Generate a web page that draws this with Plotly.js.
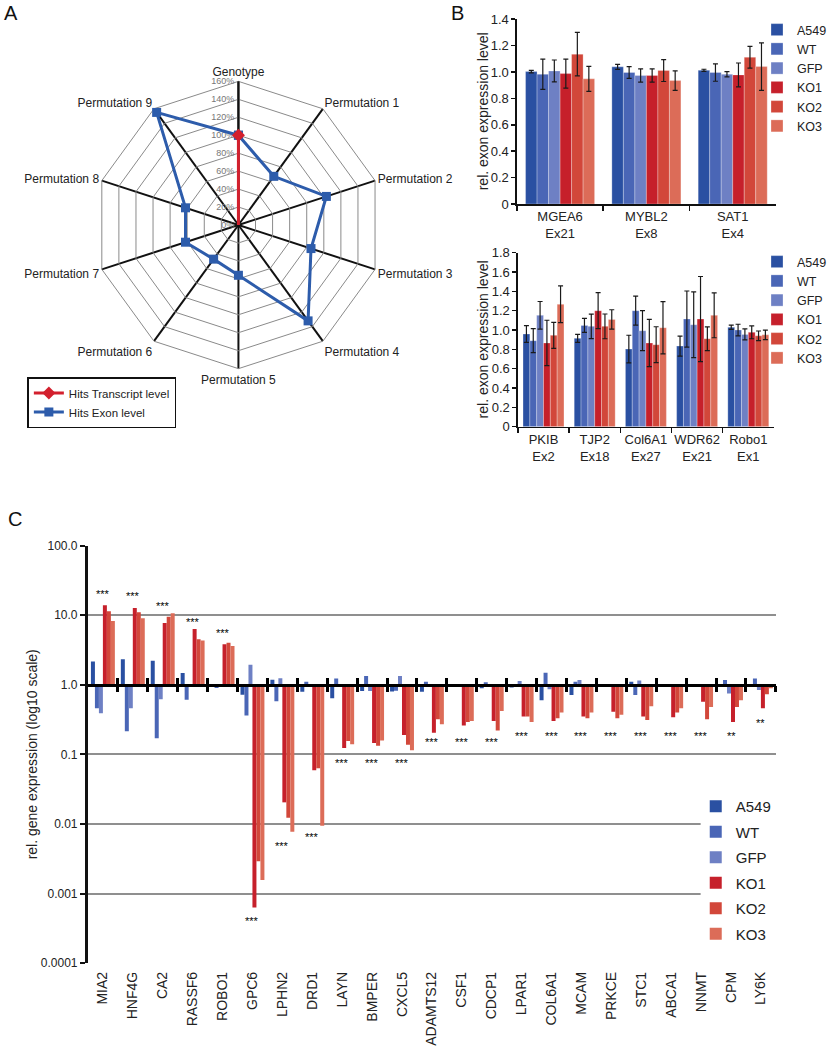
<!DOCTYPE html>
<html>
<head>
<meta charset="utf-8">
<script src="https://cdn.plot.ly/plotly-3.0.1.min.js"></script>
<style>html,body{margin:0;padding:0;background:#fff;}#chart{width:832px;height:1050px;}</style>
</head>
<body>
<div id="chart"></div>
<script>
// ---------- Panel A: radar ----------
const radarAxes = ['Genotype','Permutation 1','Permutation 2','Permutation 3','Permutation 4',
  'Permutation 5','Permutation 6','Permutation 7','Permutation 8','Permutation 9'];
const radarTranscript = [100, 0, 0, 0, 0, 0, 0, 0, 0, 0];
const radarExon = [100, 67, 103, 85, 132, 56, 47, 62, 62, 155];
const radarTicks = [0, 20, 40, 60, 80, 100, 120, 140, 160];

// ---------- Sample groups ----------
const samples = ['A549', 'WT', 'GFP', 'KO1', 'KO2', 'KO3'];

// ---------- Panel B top ----------
const bTopGenes = ['MGEA6<br>Ex21', 'MYBL2<br>Ex8', 'SAT1<br>Ex4'];
const bTopA549 = [1.003, 1.039, 1.013];
const bTopWT   = [0.983, 0.996, 0.996];
const bTopGFP  = [1.008, 0.973, 0.983];
const bTopKO1  = [0.988, 0.973, 0.978];
const bTopKO2  = [1.135, 1.011, 1.112];
const bTopKO3  = [0.948, 0.935, 1.041];
const bTopErrA549 = [0.010, 0.019, 0.008];
const bTopErrWT   = [0.114, 0.044, 0.066];
const bTopErrGFP  = [0.083, 0.050, 0.020];
const bTopErrKO1  = [0.110, 0.050, 0.090];
const bTopErrKO2  = [0.165, 0.083, 0.082];
const bTopErrKO3  = [0.095, 0.074, 0.180];
const bTopTicks = [0, 0.2, 0.4, 0.6, 0.8, 1.0, 1.2, 1.4];

// ---------- Panel B bottom ----------
const bBotGenes = ['PKIB<br>Ex2', 'TJP2<br>Ex18', 'Col6A1<br>Ex27', 'WDR62<br>Ex21', 'Robo1<br>Ex1'];
const bBotA549 = [0.959, 0.914, 0.803, 0.834, 1.028];
const bBotWT   = [0.890, 1.048, 1.200, 1.114, 1.000];
const bBotGFP  = [1.152, 1.038, 0.993, 1.055, 0.955];
const bBotKO1  = [0.866, 1.200, 0.866, 1.114, 0.976];
const bBotKO2  = [0.945, 1.038, 0.848, 0.910, 0.940];
const bBotKO3  = [1.266, 1.110, 1.024, 1.152, 0.950];
const bBotErrA549 = [0.086, 0.041, 0.143, 0.103, 0.022];
const bBotErrWT   = [0.124, 0.072, 0.150, 0.290, 0.060];
const bBotErrGFP  = [0.143, 0.126, 0.207, 0.340, 0.057];
const bBotErrKO1  = [0.235, 0.186, 0.245, 0.440, 0.066];
const bBotErrKO2  = [0.135, 0.128, 0.186, 0.122, 0.050];
const bBotErrKO3  = [0.190, 0.100, 0.270, 0.232, 0.050];
const bBotTicks = [0, 0.2, 0.4, 0.6, 0.8, 1.0, 1.2, 1.4, 1.6, 1.8];

// ---------- Panel C ----------
const cGenes = ['MIA2','HNF4G','CA2','RASSF6','ROBO1','GPC6','LPHN2','DRD1','LAYN','BMPER','CXCL5',
  'ADAMTS12','CSF1','CDCP1','LPAR1','COL6A1','MCAM','PRKCE','STC1','ABCA1','NNMT','CPM','LY6K'];
const cA549 = [2.15, 2.33, 2.2, 1.47, 1.02, 0.72, 1.18, 0.79, 0.64, 0.81, 0.80, 0.79, 1.0, 0.89, 0.91, 0.60, 0.71, 1.02, 1.10, 1.02, 0.97, 1.0, 0.93];
const cWT   = [0.46, 0.215, 0.17, 0.61, 0.90, 0.36, 0.58, 1.10, 1.23, 1.33, 0.82, 1.10, 0.98, 1.08, 1.0, 1.49, 1.10, 0.98, 0.71, 0.98, 1.0, 1.17, 1.23];
const cGFP  = [0.39, 0.46, 0.62, 1.0, 0.98, 1.93, 1.24, 1.0, 1.0, 0.81, 1.33, 1.0, 1.01, 1.0, 1.13, 0.86, 1.17, 1.0, 1.15, 1.0, 1.02, 0.75, 0.84];
const cKO1  = [13.9, 12.7, 7.7, 6.3, 3.8, 0.00063, 0.0204, 0.059, 0.123, 0.145, 0.19, 0.204, 0.26, 0.30, 0.35, 0.30, 0.35, 0.41, 0.35, 0.34, 0.57, 0.29, 0.46];
const cKO2  = [11.4, 11.0, 9.5, 4.5, 4.0, 0.0029, 0.0123, 0.063, 0.155, 0.133, 0.137, 0.32, 0.29, 0.22, 0.35, 0.33, 0.33, 0.33, 0.31, 0.40, 0.32, 0.48, 0.73];
const cKO3  = [8.2, 9.0, 10.6, 4.3, 3.6, 0.00156, 0.0077, 0.0094, 0.14, 0.158, 0.114, 0.27, 0.30, 0.42, 0.29, 0.40, 0.40, 0.37, 0.49, 0.46, 0.48, 0.60, 0.89];
const cSigLabel = ['***','***','***','***','***','***','***','***','***','***','***',
  '***','***','***','***','***','***','***','***','***','***','**','**'];
const cSigAt = [22.2, 20.6, 14.8, 8.8, 6.1, 0.00045, 0.0053, 0.0071, 0.082, 0.082, 0.082,
  0.166, 0.166, 0.166, 0.2, 0.2, 0.2, 0.2, 0.2, 0.2, 0.2, 0.2, 0.31];
const cTickVals = [100, 10, 1, 0.1, 0.01, 0.001, 0.0001];
const cTickText = ['100.0', '10.0', '1.0', '0.1', '0.01', '0.001', '0.0001'];

// ---------- Styles ----------
const colors = ['#2a50a2', '#4a66b6', '#6e80c4', '#c6202b', '#d2473a', '#dc6c58'];
const FONT = 'Liberation Sans, Arial, Helvetica, sans-serif';
const NARROW = 'Liberation Sans Narrow, Arial Narrow, Liberation Sans, Arial, sans-serif';
const W = 832, H = 1050;
const px = v => v / W;
const py = v => 1 - v / H;

const traces = [];

// Panel A
traces.push({
  type: 'scatterpolar', r: radarExon.concat([radarExon[0]]), theta: radarAxes.concat([radarAxes[0]]),
  mode: 'lines+markers', name: 'Hits Exon level', legend: 'legend', legendrank: 2,
  line: {color: '#2d5cab', width: 3}, marker: {symbol: 'square', size: 9, color: '#2d5cab'},
  cliponaxis: false, hoverinfo: 'skip'
});
traces.push({
  type: 'scatterpolar', r: radarTranscript, theta: radarAxes,
  mode: 'lines+markers', name: 'Hits Transcript level', legend: 'legend', legendrank: 1,
  line: {color: '#d3202e', width: 3}, marker: {symbol: 'diamond', size: 10, color: '#d3202e'},
  cliponaxis: false, hoverinfo: 'skip'
});

// Panel B
const bTopVals = [bTopA549, bTopWT, bTopGFP, bTopKO1, bTopKO2, bTopKO3];
const bTopErrs = [bTopErrA549, bTopErrWT, bTopErrGFP, bTopErrKO1, bTopErrKO2, bTopErrKO3];
const bBotVals = [bBotA549, bBotWT, bBotGFP, bBotKO1, bBotKO2, bBotKO3];
const bBotErrs = [bBotErrA549, bBotErrWT, bBotErrGFP, bBotErrKO1, bBotErrKO2, bBotErrKO3];
samples.forEach((s, i) => {
  traces.push({
    type: 'bar', x: bTopGenes, y: bTopVals[i], name: s, xaxis: 'x', yaxis: 'y',
    legend: 'legend2', legendgroup: 'bt' + i,
    marker: {color: colors[i], line: {color: 'rgba(255,255,255,0.35)', width: 0.8}},
    error_y: {type: 'data', array: bTopErrs[i], color: '#1a1a1a', thickness: 1.2, width: 2.5},
    hoverinfo: 'skip'
  });
});
samples.forEach((s, i) => {
  traces.push({
    type: 'bar', x: bBotGenes, y: bBotVals[i], name: s, xaxis: 'x2', yaxis: 'y2',
    legend: 'legend3', legendgroup: 'bb' + i,
    marker: {color: colors[i], line: {color: 'rgba(255,255,255,0.35)', width: 0.8}},
    error_y: {type: 'data', array: bBotErrs[i], color: '#1a1a1a', thickness: 1.2, width: 2.5},
    hoverinfo: 'skip'
  });
});

// Panel C
const cVals = [cA549, cWT, cGFP, cKO1, cKO2, cKO3];
samples.forEach((s, i) => {
  traces.push({
    type: 'bar', x: cGenes, y: cVals[i].map(v => Math.log10(v)), name: s, xaxis: 'x3', yaxis: 'y3',
    legend: 'legend4', legendgroup: 'c' + i,
    marker: {color: colors[i]}, hoverinfo: 'skip'
  });
});
// helper axes at the 1.0 line (for crossing boundary ticks)
const boundaryVals = cGenes.map((g, i) => i + 0.5);
['x4', 'x5'].forEach(ax => {
  traces.push({type: 'scatter', x: [0], y: [0], xaxis: ax, yaxis: 'y3', mode: 'markers',
    marker: {opacity: 0}, showlegend: false, hoverinfo: 'skip'});
});

// ---------- Layout ----------
const cDomY = [py(963.1), py(545.5)];
const cRange = [-4, 2];
const onePos = cDomY[0] + (0 - cRange[0]) / (cRange[1] - cRange[0]) * (cDomY[1] - cDomY[0]);
const bTopDomY = [py(204), py(19.2)];
const bBotDomY = [py(426.7), py(252.7)];

const annotations = [
  {text: 'A', x: px(2), y: py(0), xref: 'paper', yref: 'paper', xanchor: 'left', yanchor: 'top', showarrow: false, font: {size: 20, family: FONT, color: '#111'}},
  {text: 'B', x: px(459), y: py(0), xref: 'paper', yref: 'paper', xanchor: 'left', yanchor: 'top', showarrow: false, font: {size: 20, family: FONT, color: '#111'}},
  {text: 'C', x: px(6), y: py(506), xref: 'paper', yref: 'paper', xanchor: 'left', yanchor: 'top', showarrow: false, font: {size: 20, family: FONT, color: '#111'}}
];
[bTopDomY, bBotDomY].forEach(d => {
  annotations.push({text: 'rel. exon expression level', textangle: -90, x: px(494), y: (d[0] + d[1]) / 2,
    xref: 'paper', yref: 'paper', xanchor: 'center', yanchor: 'middle', showarrow: false,
    font: {size: 14, family: FONT, color: '#222'}});
});
cGenes.forEach((g, i) => {
  annotations.push({text: cSigLabel[i], x: g, y: Math.log10(cSigAt[i]), xref: 'x3', yref: 'y3',
    showarrow: false, yanchor: 'middle', yshift: -3, font: {size: 11, family: FONT, color: '#000'}});
});

const bYAxis = (dom, ticks, anchor) => ({
  domain: dom, anchor: anchor, range: [0, ticks[ticks.length - 1]], tickvals: ticks,
  ticktext: ticks.map(v => v === 0 ? '0' : v.toFixed(1)),
  showline: true, linecolor: '#111', linewidth: 1.5, ticks: 'outside', ticklen: 4, tickwidth: 1.5, tickcolor: '#111',
  showgrid: false, zeroline: false, tickfont: {size: 13, family: FONT, color: '#222'}
});
const bXAxis = (dom, anchor) => ({
  domain: dom, anchor: anchor, type: 'category', tickson: 'boundaries', ticks: 'outside', ticklen: 5, tickwidth: 1.5,
  tickcolor: '#111', showline: true, linecolor: '#111', linewidth: 1.5, showgrid: false, zeroline: false,
  tickangle: 0, tickfont: {size: 13, family: FONT, color: '#222'}
});

const layout = {
  width: W, height: H, margin: {l: 0, r: 0, t: 0, b: 0},
  paper_bgcolor: '#fff', plot_bgcolor: 'rgba(0,0,0,0)',
  font: {family: FONT, color: '#222'},
  barmode: 'group', bargap: 0.2, bargroupgap: 0,
  showlegend: true,
  polar: {
    domain: {x: [px(97), px(391)], y: [py(372), py(78)]},
    bgcolor: '#fff', gridshape: 'linear',
    radialaxis: {range: [0, 160], tickvals: radarTicks, ticktext: radarTicks.map(v => v + '%'),
      angle: 90, tickangle: 90, side: 'counterclockwise', showline: true, linecolor: '#111', linewidth: 2,
      gridcolor: '#8a8a8a', gridwidth: 1, ticks: '', tickfont: {size: 9, color: '#777', family: FONT}, layer: 'below traces'},
    angularaxis: {direction: 'clockwise', rotation: 90, type: 'category', categoryarray: radarAxes,
      showline: true, linecolor: '#8a8a8a', linewidth: 1, gridcolor: '#111', gridwidth: 2, ticks: '',
      tickfont: {size: 12, family: FONT, color: '#222'}, layer: 'below traces'}
  },
  legend: {x: px(28), y: py(377), xanchor: 'left', yanchor: 'top', bgcolor: '#fff', bordercolor: '#111', borderwidth: 1.5,
    font: {size: 11.5, family: FONT, color: '#222'}, traceorder: 'normal'},
  legend2: {x: px(775), y: py(15), xanchor: 'left', yanchor: 'top', bgcolor: 'rgba(0,0,0,0)', borderwidth: 0,
    font: {size: 12.5, family: FONT, color: '#222'}, traceorder: 'grouped', tracegroupgap: 0},
  legend3: {x: px(775), y: py(247), xanchor: 'left', yanchor: 'top', bgcolor: 'rgba(0,0,0,0)', borderwidth: 0,
    font: {size: 12.5, family: FONT, color: '#222'}, traceorder: 'grouped', tracegroupgap: 0},
  legend4: {x: px(712), y: py(790), xanchor: 'left', yanchor: 'top', bgcolor: 'rgba(0,0,0,0)', borderwidth: 0,
    font: {size: 15, family: NARROW, color: '#222'}, traceorder: 'grouped', tracegroupgap: 3},
  shapes: [
    {type: 'rect', xref: 'paper', yref: 'paper', x0: px(717), x1: px(800), y0: py(955), y1: py(770),
     fillcolor: '#fff', line: {width: 0}, layer: 'above'}
  ],
  xaxis: bXAxis([px(529), px(794)], 'y'),
  yaxis: bYAxis(bTopDomY, bTopTicks, 'x'),
  xaxis2: bXAxis([px(530), px(792)], 'y2'),
  yaxis2: bYAxis(bBotDomY, bBotTicks, 'x2'),
  xaxis3: {domain: [px(90), px(794)], anchor: 'y3', type: 'category', ticks: '', showline: false, showgrid: false,
    zeroline: false, tickangle: -90, tickfont: {size: 14, family: FONT, color: '#222'}, ticklabelstandoff: 5},
  yaxis3: {domain: cDomY, anchor: 'x3', range: cRange, tickvals: cTickVals.map(v => Math.log10(v)), ticktext: cTickText,
    showline: true, linecolor: '#111', linewidth: 3, ticks: 'outside', ticklen: 5, tickwidth: 2, tickcolor: '#111',
    showgrid: true, gridcolor: '#8f8f8f', gridwidth: 2, zeroline: false,
    tickfont: {size: 12, family: FONT, color: '#222'},
    title: {text: 'rel. gene expression (log10 scale)', font: {size: 14, family: FONT, color: '#222'}, standoff: 0}},
  xaxis4: {overlaying: 'x3', anchor: 'free', position: onePos, range: [-0.5, cGenes.length - 0.5], tickvals: boundaryVals,
    showticklabels: false, showline: true, linecolor: '#000', linewidth: 3, ticks: 'inside', ticklen: 6, tickwidth: 3,
    tickcolor: '#000', showgrid: false, zeroline: false, layer: 'above traces'},
  xaxis5: {overlaying: 'x3', anchor: 'free', position: onePos, range: [-0.5, cGenes.length - 0.5], tickvals: boundaryVals,
    showticklabels: false, showline: false, ticks: 'outside', ticklen: 6, tickwidth: 3,
    tickcolor: '#000', showgrid: false, zeroline: false, layer: 'above traces'},
  annotations: annotations
};

Plotly.newPlot('chart', traces, layout, {staticPlot: true, displayModeBar: false});
</script>
</body>
</html>
